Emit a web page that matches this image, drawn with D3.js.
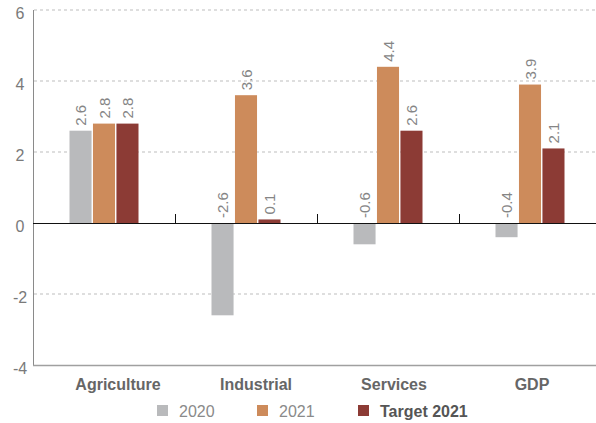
<!DOCTYPE html>
<html><head><meta charset="utf-8">
<script src="https://cdn.jsdelivr.net/npm/d3@7"></script>
<style>body{margin:0;background:#fff;} svg{display:block;font-family:"Liberation Sans",Arial,Helvetica,sans-serif;}</style>
</head><body><svg id="c" width="596" height="423"></svg>
<script>
const categories = ["Agriculture", "Industrial", "Services", "GDP"];
const seriesNames = ["2020", "2021", "Target 2021"];
const values2020 = [2.6, -2.6, -0.6, -0.4];
const values2021 = [2.8, 3.6, 4.4, 3.9];
const valuesTarget = [2.8, 0.1, 2.6, 2.1];
const yTicks = [-4, -2, 0, 2, 4, 6];
const colors = ["#b9babc", "#cd8b5b", "#8c3b35"];

const seriesValues = [values2020, values2021, valuesTarget];
const svg = d3.select("#c");
const W = 596;
const x0 = d3.scaleBand().domain(categories).range([33, 601]);
const x1 = d3.scaleBand().domain(seriesNames).range([0, 69]).paddingInner(0.06);
const groupOff = (x0.bandwidth() - 69) / 2;
const y = d3.scaleLinear().domain([-4, 6]).range([365, 10]);
const xLabel = d3.scalePoint().domain(categories).range([118, 532]);

// grid
svg.append("g").selectAll("line").data(yTicks.filter(t => t !== 0 && t !== -4)).join("line")
  .attr("x1", 34).attr("x2", W).attr("y1", d => y(d)).attr("y2", d => y(d))
  .attr("stroke", "#bdbdbd").attr("stroke-dasharray", "3,3").attr("stroke-width", 1);

// y tick labels
svg.append("g").selectAll("text").data(yTicks).join("text")
  .attr("x", 20).attr("y", d => y(d) + 5).attr("text-anchor", "middle")
  .attr("dominant-baseline", "middle").attr("font-size", 16).attr("fill", "#7a7a7a")
  .text(d => d);

// bars
const groups = svg.append("g").selectAll("g").data(categories).join("g")
  .attr("transform", c => `translate(${x0(c) + groupOff},0)`);
groups.selectAll("rect").data((c, i) => seriesNames.map((s, j) => ({s, v: seriesValues[j][i], j})))
  .join("rect")
  .attr("x", d => x1(d.s)).attr("width", x1.bandwidth())
  .attr("y", d => y(Math.max(0, d.v))).attr("height", d => Math.abs(y(d.v) - y(0)))
  .attr("fill", d => colors[d.j]);
groups.selectAll("text").data((c, i) => seriesNames.map((s, j) => ({s, v: seriesValues[j][i], j})))
  .join("text")
  .attr("transform", d => `translate(${x1(d.s) + x1.bandwidth() / 2 + 5.5},${y(Math.max(0, d.v)) - 5}) rotate(-90)`)
  .attr("font-size", 15).attr("fill", "#858585")
  .text(d => d.v.toFixed(1));

// axes lines
svg.append("line").attr("x1", 33.5).attr("x2", 33.5).attr("y1", 10).attr("y2", 365)
  .attr("stroke", "#8a8a8a").attr("stroke-width", 1);
svg.append("line").attr("x1", 33).attr("x2", W).attr("y1", 365.5).attr("y2", 365.5)
  .attr("stroke", "#a0a0a0").attr("stroke-width", 1.5);
svg.append("line").attr("x1", 33).attr("x2", W).attr("y1", y(0) + 0.5).attr("y2", y(0) + 0.5)
  .attr("stroke", "#111").attr("stroke-width", 1.2);
svg.append("g").selectAll("line").data(categories.slice(1)).join("line")
  .attr("x1", c => x0(c) + 0.5).attr("x2", c => x0(c) + 0.5)
  .attr("y1", y(0)).attr("y2", y(0) - 9).attr("stroke", "#111").attr("stroke-width", 1);

// x labels
svg.append("g").selectAll("text").data(categories).join("text")
  .attr("x", c => xLabel(c)).attr("y", 390).attr("text-anchor", "middle")
  .attr("font-size", 16).attr("font-weight", "bold").attr("fill", "#666")
  .text(c => c);

// legend
const legX = [157, 257, 358];
const leg = svg.append("g").selectAll("g").data(seriesNames).join("g")
  .attr("transform", (s, i) => `translate(${legX[i]},405)`);
leg.append("rect").attr("width", 11).attr("height", 11).attr("fill", (s, i) => colors[i]);
leg.append("text").attr("x", 22).attr("y", 11.5).attr("font-size", 16)
  .attr("fill", (s, i) => i === 2 ? "#555" : "#8a8a8a")
  .attr("font-weight", (s, i) => i === 2 ? "bold" : "normal")
  .text(s => s);
</script></body></html>
